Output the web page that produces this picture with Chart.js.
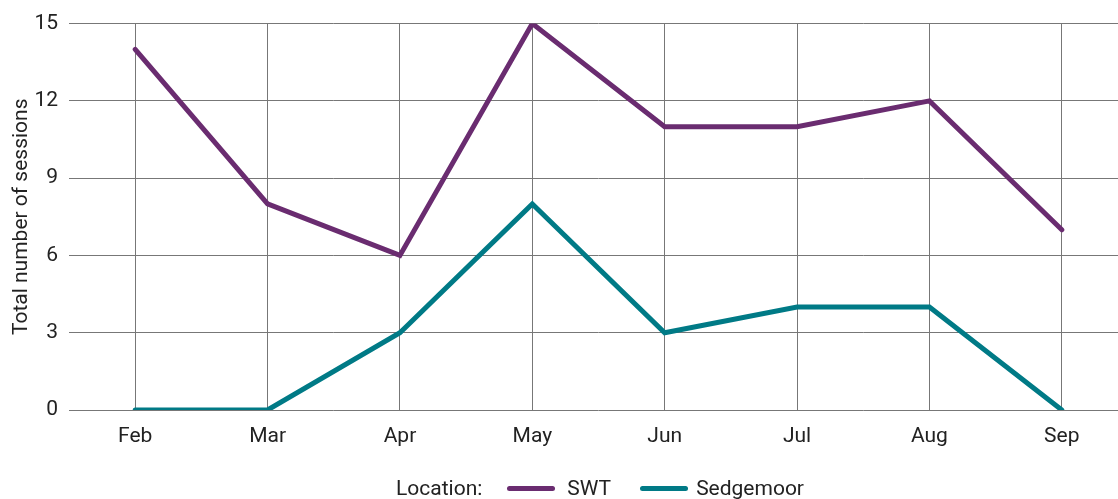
<!DOCTYPE html>
<html>
<head>
<meta charset="utf-8">
<script src="https://cdn.jsdelivr.net/npm/chart.js@4.4.0/dist/chart.umd.min.js"></script>
<style>
  html, body { margin: 0; padding: 0; background: #fff; overflow: hidden; }
  #wrap { position: relative; width: 1118px; height: 499px; overflow: hidden; }
  #box { position: absolute; left: 0; top: 0; width: 1128px; height: 499px; }
  #legend {
    position: absolute; left: 396px; top: 474px; height: 28px;
    display: flex; align-items: center;
    font-family: Roboto, sans-serif; font-size: 21px; color: #222;
  }
  #legend .line { display: inline-block; width: 48px; height: 5px; border-radius: 3px; }
</style>
</head>
<body>
<div id="wrap">
  <div id="box"><canvas id="chart"></canvas></div>
  <div id="legend"></div>
</div>
<script>
// waarden
const months = ['Feb', 'Mar', 'Apr', 'May', 'Jun', 'Jul', 'Aug', 'Sep'];
const swt = [14, 8, 6, 15, 11, 11, 12, 7];
const sedgemoor = [0, 0, 3, 8, 3, 4, 4, 0];
const yTicks = [0, 3, 6, 9, 12, 15];

const purple = '#6a2c70';
const teal = '#007a86';
const textColor = '#222';
const gridColor = '#777';

Chart.defaults.font.family = 'Roboto, sans-serif';
Chart.defaults.font.size = 21;
Chart.defaults.color = textColor;

const chart = new Chart(document.getElementById('chart'), {
    type: 'line',
    data: {
        labels: months,
        datasets: [
            { label: 'SWT', data: swt, borderColor: purple, borderWidth: 5 },
            { label: 'Sedgemoor', data: sedgemoor, borderColor: teal, borderWidth: 5 }
        ]
    },
    options: {
        responsive: true,
        maintainAspectRatio: false,
        animation: false,
        elements: {
            point: { radius: 0, hoverRadius: 0 },
            line: { tension: 0, borderCapStyle: 'round', borderJoinStyle: 'miter' }
        },
        layout: { padding: { top: 22, bottom: 39, left: 0, right: 0 } },
        plugins: { legend: { display: false }, tooltip: { enabled: false } },
        scales: {
            x: {
                offset: true,
                border: { display: false },
                grid: { color: gridColor, lineWidth: 1, drawTicks: false, offset: false },
                ticks: { padding: 14 },
                afterFit: s => { s.height = 50; }
            },
            y: {
                min: 0,
                max: 15,
                border: { display: false },
                grid: { color: gridColor, lineWidth: 1, drawTicks: false },
                afterBuildTicks: s => { s.ticks = yTicks.map(v => ({ value: v })); },
                ticks: { padding: 11 },
                title: { display: true, text: 'Total number of sessions', padding: { top: 9, bottom: 0 } },
                afterFit: s => { s.width = 69; }
            }
        }
    }
});

// legenda
const legend = document.getElementById('legend');
legend.innerHTML =
    '<span>Location:</span>' +
    '<span class="line" style="background:' + purple + ';margin-left:25px"></span>' +
    '<span style="margin-left:12px">SWT</span>' +
    '<span class="line" style="background:' + teal + ';margin-left:29px"></span>' +
    '<span style="margin-left:8px">Sedgemoor</span>';
</script>
</body>
</html>
